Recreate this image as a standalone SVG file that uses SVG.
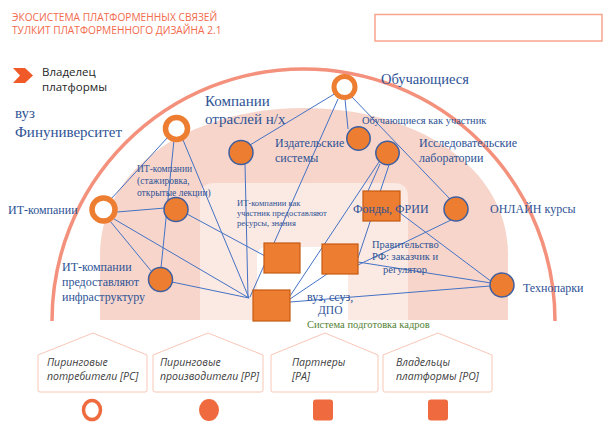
<svg xmlns="http://www.w3.org/2000/svg" width="605" height="422" viewBox="0 0 605 422">
  <style>
    .hdr { font-family: "Open Sans", "Liberation Sans", sans-serif; font-size: 10.2px; fill: #f26b4d; }
    .own { font-family: "Open Sans", "Liberation Sans", sans-serif; font-size: 11.5px; fill: #262626; }
    .lbl { font-family: "Liberation Serif", "DejaVu Serif", serif; fill: #2e5395; }
    .grn { font-family: "Liberation Serif", "DejaVu Serif", serif; fill: #548235; font-size: 10.5px; }
    .leg { font-family: "Open Sans", "Liberation Sans", sans-serif; font-size: 10.5px; font-style: italic; fill: #404040; }
    .ring { fill: #ffffff; stroke: #ed7d31; stroke-width: 5.5; }
    .dot { fill: #ed7d31; stroke: #3f5fa0; stroke-width: 1.5; }
    .sq { fill: #ed7d31; stroke: #c55a11; stroke-width: 1.2; }
    .house { fill: #ffffff; stroke: #f9c7b6; stroke-width: 1; }
    #connectors line { stroke: #4472c4; stroke-width: 1; }
  </style>

  <rect width="605" height="422" fill="#ffffff"/>

  <!-- header -->
  <text class="hdr" x="12" y="21">ЭКОСИСТЕМА ПЛАТФОРМЕННЫХ СВЯЗЕЙ</text>
  <text class="hdr" x="12" y="34">ТУЛКИТ ПЛАТФОРМЕННОГО ДИЗАЙНА 2.1</text>
  <rect x="375" y="14.5" width="227" height="26.5" fill="none" stroke="#f8a58c" stroke-width="1.5"/>

  <!-- owner marker -->
  <polygon points="13,68 25,68 33,75.5 25,83 13,83 20,75.5" fill="#f05a28"/>
  <text class="own" x="42" y="76">Владелец</text>
  <text class="own" x="42" y="91">платформы</text>

  <!-- background zones -->
  <path d="M100,320 L100,255 C100,165 195,108 304,108 C413,108 508,165 508,255 L508,320 Z" fill="#f7d5cb"/>
  <path d="M200,320 L200,197 Q200,183 214,183 L394,183 Q408,183 408,197 L408,320 Z" fill="#fbe9e3"/>
  <path d="M257,320 L257,257 Q257,247 267,247 L338,247 Q348,247 348,257 L348,320 Z" fill="#ffffff"/>
  <path d="M52,321 A251.5,252 0 0 1 555,321" fill="none" stroke="#f4917c" stroke-width="3.5"/>

  <!-- connectors -->
  <g id="connectors">
    <line x1="336" y1="93" x2="250" y2="145"/>
    <line x1="338" y1="99" x2="250" y2="297"/>
    <line x1="345" y1="99" x2="348" y2="129"/>
    <line x1="352" y1="97" x2="450" y2="199"/>
    <line x1="168" y1="137" x2="111" y2="199"/>
    <line x1="174" y1="140" x2="161" y2="268"/>
    <line x1="183" y1="140" x2="249" y2="298"/>
    <line x1="117" y1="212" x2="165" y2="208"/>
    <line x1="110" y1="221" x2="152" y2="272"/>
    <line x1="114" y1="219" x2="249" y2="298"/>
    <line x1="187" y1="214" x2="265" y2="256"/>
    <line x1="172" y1="282" x2="249" y2="298"/>
    <line x1="245" y1="163" x2="248" y2="298"/>
    <line x1="379" y1="162" x2="290" y2="296"/>
    <line x1="389" y1="165" x2="358" y2="258"/>
    <line x1="380" y1="164" x2="368" y2="191"/>
    <line x1="451" y1="220" x2="358" y2="265"/>
    <line x1="400" y1="213" x2="492" y2="282"/>
    <line x1="358" y1="262" x2="491" y2="283"/>
    <line x1="290" y1="302" x2="490" y2="286"/>
    <line x1="290" y1="299" x2="330" y2="272"/>
  </g>

  <!-- peer consumers (rings) -->
  <g id="n-students"><circle class="ring" cx="344.5" cy="87" r="10.5" style="stroke-width:5"/></g>
  <g id="n-fin-univ"><circle class="ring" cx="176.5" cy="128.5" r="11"/></g>
  <g id="n-it"><circle class="ring" cx="103.5" cy="209.5" r="11.5"/></g>

  <!-- peer producers (dots) -->
  <g id="n-companies"><circle class="dot" cx="241" cy="152.5" r="12"/></g>
  <g id="n-students-part"><circle class="dot" cx="358.5" cy="138.5" r="11.7"/></g>
  <g id="n-labs"><circle class="dot" cx="387.5" cy="153" r="11.7"/></g>
  <g id="n-it-intern"><circle class="dot" cx="176" cy="209.5" r="12"/></g>
  <g id="n-it-infra"><circle class="dot" cx="160.5" cy="279.5" r="12"/></g>
  <g id="n-online"><circle class="dot" cx="456" cy="209" r="12"/></g>
  <g id="n-technoparks"><circle class="dot" cx="502" cy="285" r="12"/></g>

  <!-- partners / owners (squares) -->
  <g id="n-funds"><rect class="sq" x="363" y="191" width="37" height="30"/></g>
  <g id="n-it-res"><rect class="sq" x="264" y="243" width="36" height="30"/></g>
  <g id="n-gov"><rect class="sq" x="322" y="244" width="36" height="30"/></g>
  <g id="n-edu"><rect class="sq" x="253" y="290" width="37" height="31"/></g>

  <!-- labels -->
  <text class="lbl" x="381" y="84" font-size="14.5">Обучающиеся</text>
  <text class="lbl" x="205" y="106" font-size="15">Компании</text>
  <text class="lbl" x="205" y="124" font-size="15">отраслей н/х</text>
  <text class="lbl" x="15" y="118" font-size="15">вуз</text>
  <text class="lbl" x="15" y="137" font-size="15">Финуниверситет</text>
  <text class="lbl" x="362" y="124" font-size="10.5">Обучающиеся как участник</text>
  <text class="lbl" x="275" y="147" font-size="12">Издательские</text>
  <text class="lbl" x="275" y="162" font-size="12">системы</text>
  <text class="lbl" x="419" y="147" font-size="12">Исследовательские</text>
  <text class="lbl" x="419" y="162" font-size="12">лаборатории</text>
  <text class="lbl" x="137" y="172" font-size="9.5">ИТ-компании</text>
  <text class="lbl" x="137" y="184" font-size="9.5">(стажировка,</text>
  <text class="lbl" x="137" y="196" font-size="9.5">открытые лекции)</text>
  <text class="lbl" x="8" y="214" font-size="12">ИТ-компании</text>
  <text class="lbl" x="237" y="206" font-size="8.5">ИТ-компании как</text>
  <text class="lbl" x="237" y="216" font-size="8.5">участник предоставляют</text>
  <text class="lbl" x="237" y="226" font-size="8.5">ресурсы, знания</text>
  <text class="lbl" x="353" y="213" font-size="12">Фонды, ФРИИ</text>
  <text class="lbl" x="490" y="213" font-size="12">ОНЛАЙН курсы</text>
  <text class="lbl" x="372" y="248" font-size="10.5">Правительство</text>
  <text class="lbl" x="372" y="260" font-size="10.5">РФ: заказчик и</text>
  <text class="lbl" x="383" y="273" font-size="10.5">регулятор</text>
  <text class="lbl" x="62" y="271" font-size="12">ИТ-компании</text>
  <text class="lbl" x="62" y="286" font-size="12">предоставляют</text>
  <text class="lbl" x="62" y="301" font-size="12">инфраструктуру</text>
  <text class="lbl" x="307" y="300.5" font-size="12">вуз, ссуз,</text>
  <text class="lbl" x="318" y="314" font-size="11.5">ДПО</text>
  <text class="lbl" x="523" y="292" font-size="12">Технопарки</text>
  <text class="grn" x="307" y="327.5">Система подготовка кадров</text>

  <!-- legend -->
  <g id="leg-pc">
    <path class="house" d="M38,355 L93,333 L147,355 L147,390 Q147,392 145,392 L40,392 Q38,392 38,390 Z"/>
    <text class="leg" x="47" y="366">Пиринговые</text>
    <text class="leg" x="47" y="380">потребители [PC]</text>
    <ellipse cx="92" cy="410" rx="8.5" ry="9.5" fill="none" stroke="#ef6a3e" stroke-width="3.5"/>
  </g>
  <g id="leg-pp">
    <path class="house" d="M153,355 L208,333 L263,355 L263,390 Q263,392 261,392 L155,392 Q153,392 153,390 Z"/>
    <text class="leg" x="160" y="366">Пиринговые</text>
    <text class="leg" x="160" y="380">производители [PP]</text>
    <ellipse cx="209" cy="410" rx="10" ry="11" fill="#ef6a3e"/>
  </g>
  <g id="leg-pa">
    <path class="house" d="M271,355 L325,333 L378,355 L378,390 Q378,392 376,392 L273,392 Q271,392 271,390 Z"/>
    <text class="leg" x="292" y="366">Партнеры</text>
    <text class="leg" x="292" y="380">[PA]</text>
    <rect x="313" y="399.5" width="20" height="21" rx="3" fill="#ef6a3e"/>
  </g>
  <g id="leg-po">
    <path class="house" d="M383,355 L438,333 L492,355 L492,390 Q492,392 490,392 L385,392 Q383,392 383,390 Z"/>
    <text class="leg" x="396" y="366">Владельцы</text>
    <text class="leg" x="396" y="380">платформы [PO]</text>
    <rect x="428" y="399.5" width="20" height="21" rx="3" fill="#ef6a3e"/>
  </g>
</svg>
